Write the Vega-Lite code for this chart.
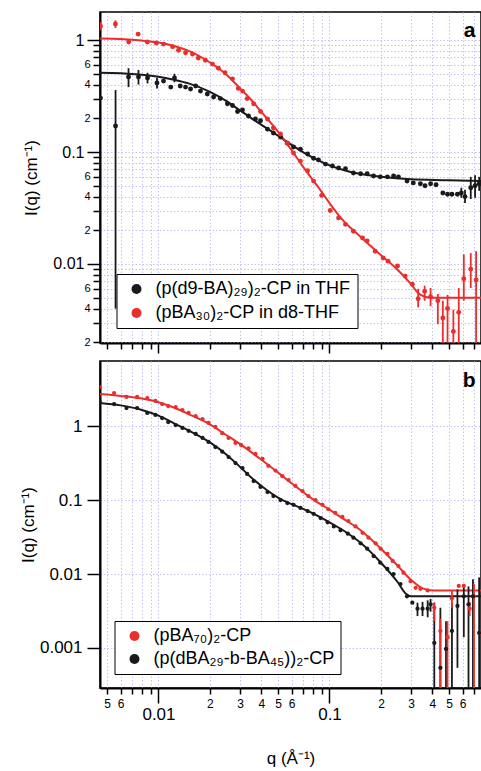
{
  "$schema": "https://vega.github.io/schema/vega-lite/v6.json",
  "padding": {"left": 18, "top": 11, "right": 0, "bottom": 4},
  "background": "white",
  "config": {
    "font": "Liberation Sans",
    "view": {"stroke": "black", "strokeWidth": 1.5},
    "axis": {"domainColor": "black", "domainWidth": 2, "tickColor": "black", "tickWidth": 1.5, "labelColor": "black", "titleColor": "black", "labelFont": "Liberation Sans", "titleFont": "Liberation Sans", "titleFontWeight": "normal", "gridColor": "#c3c3ee", "gridDash": [1.5, 2], "gridWidth": 1, "labelOverlap": false, "labelFlush": false, "labelBound": false}
  },
  "spacing": 5,
  "resolve": {"scale": {"color": "independent", "x": "independent", "y": "independent"}, "legend": {"color": "independent"}},
  "datasets": {
    "a_pts": [
      {"q":0.00458,"I":0.303,"s":"(p(d9-BA)₂₉)₂-CP in THF"},
      {"q":0.00561,"I":0.171,"lo":0.004,"hi":0.358,"s":"(p(d9-BA)₂₉)₂-CP in THF"},
      {"q":0.00668,"I":0.467,"lo":0.38,"hi":0.56,"s":"(p(d9-BA)₂₉)₂-CP in THF"},
      {"q":0.00764,"I":0.467,"lo":0.40,"hi":0.54,"s":"(p(d9-BA)₂₉)₂-CP in THF"},
      {"q":0.00863,"I":0.458,"lo":0.41,"hi":0.51,"s":"(p(d9-BA)₂₉)₂-CP in THF"},
      {"q":0.0098,"I":0.413,"lo":0.37,"hi":0.46,"s":"(p(d9-BA)₂₉)₂-CP in THF"},
      {"q":0.0107,"I":0.43,"s":"(p(d9-BA)₂₉)₂-CP in THF"},
      {"q":0.0118,"I":0.38,"s":"(p(d9-BA)₂₉)₂-CP in THF"},
      {"q":0.0124,"I":0.458,"lo":0.42,"hi":0.50,"s":"(p(d9-BA)₂₉)₂-CP in THF"},
      {"q":0.0134,"I":0.389,"s":"(p(d9-BA)₂₉)₂-CP in THF"},
      {"q":0.0144,"I":0.38,"s":"(p(d9-BA)₂₉)₂-CP in THF"},
      {"q":0.0154,"I":0.365,"s":"(p(d9-BA)₂₉)₂-CP in THF"},
      {"q":0.0165,"I":0.389,"s":"(p(d9-BA)₂₉)₂-CP in THF"},
      {"q":0.0176,"I":0.35,"s":"(p(d9-BA)₂₉)₂-CP in THF"},
      {"q":0.0193,"I":0.33,"s":"(p(d9-BA)₂₉)₂-CP in THF"},
      {"q":0.021,"I":0.31,"s":"(p(d9-BA)₂₉)₂-CP in THF"},
      {"q":0.023,"I":0.30,"s":"(p(d9-BA)₂₉)₂-CP in THF"},
      {"q":0.0253,"I":0.27,"s":"(p(d9-BA)₂₉)₂-CP in THF"},
      {"q":0.0271,"I":0.26,"s":"(p(d9-BA)₂₉)₂-CP in THF"},
      {"q":0.029,"I":0.23,"s":"(p(d9-BA)₂₉)₂-CP in THF"},
      {"q":0.031,"I":0.237,"s":"(p(d9-BA)₂₉)₂-CP in THF"},
      {"q":0.0336,"I":0.21,"s":"(p(d9-BA)₂₉)₂-CP in THF"},
      {"q":0.0369,"I":0.197,"s":"(p(d9-BA)₂₉)₂-CP in THF"},
      {"q":0.0395,"I":0.19,"s":"(p(d9-BA)₂₉)₂-CP in THF"},
      {"q":0.0434,"I":0.16,"s":"(p(d9-BA)₂₉)₂-CP in THF"},
      {"q":0.047,"I":0.148,"s":"(p(d9-BA)₂₉)₂-CP in THF"},
      {"q":0.0517,"I":0.136,"s":"(p(d9-BA)₂₉)₂-CP in THF"},
      {"q":0.0567,"I":0.12,"s":"(p(d9-BA)₂₉)₂-CP in THF"},
      {"q":0.0616,"I":0.111,"s":"(p(d9-BA)₂₉)₂-CP in THF"},
      {"q":0.0676,"I":0.106,"s":"(p(d9-BA)₂₉)₂-CP in THF"},
      {"q":0.0745,"I":0.096,"s":"(p(d9-BA)₂₉)₂-CP in THF"},
      {"q":0.0807,"I":0.088,"s":"(p(d9-BA)₂₉)₂-CP in THF"},
      {"q":0.0862,"I":0.085,"s":"(p(d9-BA)₂₉)₂-CP in THF"},
      {"q":0.0947,"I":0.078,"s":"(p(d9-BA)₂₉)₂-CP in THF"},
      {"q":0.104,"I":0.075,"s":"(p(d9-BA)₂₉)₂-CP in THF"},
      {"q":0.113,"I":0.072,"s":"(p(d9-BA)₂₉)₂-CP in THF"},
      {"q":0.124,"I":0.071,"s":"(p(d9-BA)₂₉)₂-CP in THF"},
      {"q":0.138,"I":0.065,"s":"(p(d9-BA)₂₉)₂-CP in THF"},
      {"q":0.152,"I":0.064,"s":"(p(d9-BA)₂₉)₂-CP in THF"},
      {"q":0.166,"I":0.064,"s":"(p(d9-BA)₂₉)₂-CP in THF"},
      {"q":0.181,"I":0.061,"s":"(p(d9-BA)₂₉)₂-CP in THF"},
      {"q":0.198,"I":0.06,"s":"(p(d9-BA)₂₉)₂-CP in THF"},
      {"q":0.218,"I":0.06,"s":"(p(d9-BA)₂₉)₂-CP in THF"},
      {"q":0.237,"I":0.061,"s":"(p(d9-BA)₂₉)₂-CP in THF"},
      {"q":0.253,"I":0.06,"s":"(p(d9-BA)₂₉)₂-CP in THF"},
      {"q":0.284,"I":0.055,"s":"(p(d9-BA)₂₉)₂-CP in THF"},
      {"q":0.309,"I":0.053,"s":"(p(d9-BA)₂₉)₂-CP in THF"},
      {"q":0.34,"I":0.052,"s":"(p(d9-BA)₂₉)₂-CP in THF"},
      {"q":0.362,"I":0.05,"s":"(p(d9-BA)₂₉)₂-CP in THF"},
      {"q":0.39,"I":0.052,"s":"(p(d9-BA)₂₉)₂-CP in THF"},
      {"q":0.42,"I":0.051,"s":"(p(d9-BA)₂₉)₂-CP in THF"},
      {"q":0.46,"I":0.043,"s":"(p(d9-BA)₂₉)₂-CP in THF"},
      {"q":0.49,"I":0.042,"s":"(p(d9-BA)₂₉)₂-CP in THF"},
      {"q":0.52,"I":0.042,"s":"(p(d9-BA)₂₉)₂-CP in THF"},
      {"q":0.56,"I":0.042,"s":"(p(d9-BA)₂₉)₂-CP in THF"},
      {"q":0.59,"I":0.043,"lo":0.039,"hi":0.048,"s":"(p(d9-BA)₂₉)₂-CP in THF"},
      {"q":0.62,"I":0.04,"lo":0.035,"hi":0.046,"s":"(p(d9-BA)₂₉)₂-CP in THF"},
      {"q":0.67,"I":0.048,"lo":0.038,"hi":0.06,"s":"(p(d9-BA)₂₉)₂-CP in THF"},
      {"q":0.71,"I":0.05,"lo":0.039,"hi":0.062,"s":"(p(d9-BA)₂₉)₂-CP in THF"},
      {"q":0.75,"I":0.052,"lo":0.045,"hi":0.06,"s":"(p(d9-BA)₂₉)₂-CP in THF"},
      {"q":0.00458,"I":1.33,"lo":1.22,"hi":1.45,"s":"(pBA₃₀)₂-CP in d8-THF"},
      {"q":0.0056,"I":1.39,"lo":1.28,"hi":1.5,"s":"(pBA₃₀)₂-CP in d8-THF"},
      {"q":0.0067,"I":0.96,"s":"(pBA₃₀)₂-CP in d8-THF"},
      {"q":0.0076,"I":1.13,"s":"(pBA₃₀)₂-CP in d8-THF"},
      {"q":0.0086,"I":0.96,"s":"(pBA₃₀)₂-CP in d8-THF"},
      {"q":0.0097,"I":0.94,"s":"(pBA₃₀)₂-CP in d8-THF"},
      {"q":0.0107,"I":0.92,"s":"(pBA₃₀)₂-CP in d8-THF"},
      {"q":0.0121,"I":0.87,"s":"(pBA₃₀)₂-CP in d8-THF"},
      {"q":0.0131,"I":0.81,"s":"(pBA₃₀)₂-CP in d8-THF"},
      {"q":0.0144,"I":0.77,"s":"(pBA₃₀)₂-CP in d8-THF"},
      {"q":0.0158,"I":0.75,"s":"(pBA₃₀)₂-CP in d8-THF"},
      {"q":0.0171,"I":0.69,"s":"(pBA₃₀)₂-CP in d8-THF"},
      {"q":0.0188,"I":0.66,"s":"(pBA₃₀)₂-CP in d8-THF"},
      {"q":0.0207,"I":0.61,"s":"(pBA₃₀)₂-CP in d8-THF"},
      {"q":0.0224,"I":0.56,"s":"(pBA₃₀)₂-CP in d8-THF"},
      {"q":0.0245,"I":0.51,"s":"(pBA₃₀)₂-CP in d8-THF"},
      {"q":0.0271,"I":0.45,"s":"(pBA₃₀)₂-CP in d8-THF"},
      {"q":0.0293,"I":0.37,"s":"(pBA₃₀)₂-CP in d8-THF"},
      {"q":0.031,"I":0.35,"s":"(pBA₃₀)₂-CP in d8-THF"},
      {"q":0.033,"I":0.30,"s":"(pBA₃₀)₂-CP in d8-THF"},
      {"q":0.036,"I":0.27,"s":"(pBA₃₀)₂-CP in d8-THF"},
      {"q":0.0395,"I":0.23,"s":"(pBA₃₀)₂-CP in d8-THF"},
      {"q":0.0434,"I":0.197,"s":"(pBA₃₀)₂-CP in d8-THF"},
      {"q":0.047,"I":0.164,"s":"(pBA₃₀)₂-CP in d8-THF"},
      {"q":0.0517,"I":0.145,"s":"(pBA₃₀)₂-CP in d8-THF"},
      {"q":0.0567,"I":0.12,"s":"(pBA₃₀)₂-CP in d8-THF"},
      {"q":0.0616,"I":0.098,"s":"(pBA₃₀)₂-CP in d8-THF"},
      {"q":0.0676,"I":0.083,"s":"(pBA₃₀)₂-CP in d8-THF"},
      {"q":0.0745,"I":0.068,"s":"(pBA₃₀)₂-CP in d8-THF"},
      {"q":0.0807,"I":0.055,"s":"(pBA₃₀)₂-CP in d8-THF"},
      {"q":0.09,"I":0.041,"s":"(pBA₃₀)₂-CP in d8-THF"},
      {"q":0.101,"I":0.030,"s":"(pBA₃₀)₂-CP in d8-THF"},
      {"q":0.113,"I":0.0258,"s":"(pBA₃₀)₂-CP in d8-THF"},
      {"q":0.124,"I":0.0226,"s":"(pBA₃₀)₂-CP in d8-THF"},
      {"q":0.138,"I":0.0196,"s":"(pBA₃₀)₂-CP in d8-THF"},
      {"q":0.156,"I":0.0171,"s":"(pBA₃₀)₂-CP in d8-THF"},
      {"q":0.166,"I":0.0161,"s":"(pBA₃₀)₂-CP in d8-THF"},
      {"q":0.185,"I":0.013,"s":"(pBA₃₀)₂-CP in d8-THF"},
      {"q":0.206,"I":0.0113,"s":"(pBA₃₀)₂-CP in d8-THF"},
      {"q":0.22,"I":0.0106,"s":"(pBA₃₀)₂-CP in d8-THF"},
      {"q":0.25,"I":0.0096,"s":"(pBA₃₀)₂-CP in d8-THF"},
      {"q":0.277,"I":0.0078,"s":"(pBA₃₀)₂-CP in d8-THF"},
      {"q":0.305,"I":0.0066,"s":"(pBA₃₀)₂-CP in d8-THF"},
      {"q":0.33,"I":0.0049,"lo":0.0041,"hi":0.006,"s":"(pBA₃₀)₂-CP in d8-THF"},
      {"q":0.36,"I":0.0057,"lo":0.0047,"hi":0.0064,"s":"(pBA₃₀)₂-CP in d8-THF"},
      {"q":0.39,"I":0.0051,"lo":0.0042,"hi":0.0061,"s":"(pBA₃₀)₂-CP in d8-THF"},
      {"q":0.43,"I":0.0047,"lo":0.0029,"hi":0.0054,"s":"(pBA₃₀)₂-CP in d8-THF"},
      {"q":0.46,"I":0.0033,"lo":0.0015,"hi":0.0047,"s":"(pBA₃₀)₂-CP in d8-THF"},
      {"q":0.49,"I":0.004,"lo":0.0015,"hi":0.0053,"s":"(pBA₃₀)₂-CP in d8-THF"},
      {"q":0.53,"I":0.0025,"lo":0.0015,"hi":0.0039,"s":"(pBA₃₀)₂-CP in d8-THF"},
      {"q":0.57,"I":0.0037,"lo":0.0015,"hi":0.0061,"s":"(pBA₃₀)₂-CP in d8-THF"},
      {"q":0.61,"I":0.0074,"lo":0.0047,"hi":0.0122,"s":"(pBA₃₀)₂-CP in d8-THF"},
      {"q":0.67,"I":0.009,"lo":0.0061,"hi":0.0125,"s":"(pBA₃₀)₂-CP in d8-THF"},
      {"q":0.72,"I":0.0072,"lo":0.0015,"hi":0.013,"s":"(pBA₃₀)₂-CP in d8-THF"}
    ],
    "a_fit": [
      {"q":0.00455,"I":0.51,"s":"(p(d9-BA)₂₉)₂-CP in THF"},
      {"q":0.006,"I":0.505,"s":"(p(d9-BA)₂₉)₂-CP in THF"},
      {"q":0.008,"I":0.49,"s":"(p(d9-BA)₂₉)₂-CP in THF"},
      {"q":0.01,"I":0.47,"s":"(p(d9-BA)₂₉)₂-CP in THF"},
      {"q":0.0125,"I":0.44,"s":"(p(d9-BA)₂₉)₂-CP in THF"},
      {"q":0.015,"I":0.41,"s":"(p(d9-BA)₂₉)₂-CP in THF"},
      {"q":0.02,"I":0.345,"s":"(p(d9-BA)₂₉)₂-CP in THF"},
      {"q":0.025,"I":0.285,"s":"(p(d9-BA)₂₉)₂-CP in THF"},
      {"q":0.03,"I":0.235,"s":"(p(d9-BA)₂₉)₂-CP in THF"},
      {"q":0.035,"I":0.2,"s":"(p(d9-BA)₂₉)₂-CP in THF"},
      {"q":0.04,"I":0.175,"s":"(p(d9-BA)₂₉)₂-CP in THF"},
      {"q":0.05,"I":0.14,"s":"(p(d9-BA)₂₉)₂-CP in THF"},
      {"q":0.06,"I":0.116,"s":"(p(d9-BA)₂₉)₂-CP in THF"},
      {"q":0.07,"I":0.1,"s":"(p(d9-BA)₂₉)₂-CP in THF"},
      {"q":0.08,"I":0.089,"s":"(p(d9-BA)₂₉)₂-CP in THF"},
      {"q":0.1,"I":0.076,"s":"(p(d9-BA)₂₉)₂-CP in THF"},
      {"q":0.125,"I":0.068,"s":"(p(d9-BA)₂₉)₂-CP in THF"},
      {"q":0.15,"I":0.064,"s":"(p(d9-BA)₂₉)₂-CP in THF"},
      {"q":0.2,"I":0.06,"s":"(p(d9-BA)₂₉)₂-CP in THF"},
      {"q":0.3,"I":0.057,"s":"(p(d9-BA)₂₉)₂-CP in THF"},
      {"q":0.5,"I":0.056,"s":"(p(d9-BA)₂₉)₂-CP in THF"},
      {"q":0.769,"I":0.055,"s":"(p(d9-BA)₂₉)₂-CP in THF"},
      {"q":0.00455,"I":1.03,"s":"(pBA₃₀)₂-CP in d8-THF"},
      {"q":0.006,"I":1.02,"s":"(pBA₃₀)₂-CP in d8-THF"},
      {"q":0.008,"I":0.99,"s":"(pBA₃₀)₂-CP in d8-THF"},
      {"q":0.01,"I":0.95,"s":"(pBA₃₀)₂-CP in d8-THF"},
      {"q":0.0125,"I":0.88,"s":"(pBA₃₀)₂-CP in d8-THF"},
      {"q":0.015,"I":0.8,"s":"(pBA₃₀)₂-CP in d8-THF"},
      {"q":0.02,"I":0.63,"s":"(pBA₃₀)₂-CP in d8-THF"},
      {"q":0.025,"I":0.49,"s":"(pBA₃₀)₂-CP in d8-THF"},
      {"q":0.03,"I":0.37,"s":"(pBA₃₀)₂-CP in d8-THF"},
      {"q":0.035,"I":0.29,"s":"(pBA₃₀)₂-CP in d8-THF"},
      {"q":0.04,"I":0.228,"s":"(pBA₃₀)₂-CP in d8-THF"},
      {"q":0.045,"I":0.185,"s":"(pBA₃₀)₂-CP in d8-THF"},
      {"q":0.05,"I":0.152,"s":"(pBA₃₀)₂-CP in d8-THF"},
      {"q":0.06,"I":0.104,"s":"(pBA₃₀)₂-CP in d8-THF"},
      {"q":0.07,"I":0.074,"s":"(pBA₃₀)₂-CP in d8-THF"},
      {"q":0.08,"I":0.056,"s":"(pBA₃₀)₂-CP in d8-THF"},
      {"q":0.09,"I":0.044,"s":"(pBA₃₀)₂-CP in d8-THF"},
      {"q":0.1,"I":0.035,"s":"(pBA₃₀)₂-CP in d8-THF"},
      {"q":0.12,"I":0.0245,"s":"(pBA₃₀)₂-CP in d8-THF"},
      {"q":0.15,"I":0.0178,"s":"(pBA₃₀)₂-CP in d8-THF"},
      {"q":0.2,"I":0.012,"s":"(pBA₃₀)₂-CP in d8-THF"},
      {"q":0.25,"I":0.0089,"s":"(pBA₃₀)₂-CP in d8-THF"},
      {"q":0.3,"I":0.0066,"s":"(pBA₃₀)₂-CP in d8-THF"},
      {"q":0.33,"I":0.0055,"s":"(pBA₃₀)₂-CP in d8-THF"},
      {"q":0.36,"I":0.0051,"s":"(pBA₃₀)₂-CP in d8-THF"},
      {"q":0.4,"I":0.005,"s":"(pBA₃₀)₂-CP in d8-THF"},
      {"q":0.769,"I":0.005,"s":"(pBA₃₀)₂-CP in d8-THF"}
    ],
    "b_pts": [
      {"q":0.00453,"I":3.37,"s":"(pBA₇₀)₂-CP"},
      {"q":0.0055,"I":2.79,"s":"(pBA₇₀)₂-CP"},
      {"q":0.0065,"I":2.47,"s":"(pBA₇₀)₂-CP"},
      {"q":0.0075,"I":2.47,"s":"(pBA₇₀)₂-CP"},
      {"q":0.0086,"I":2.39,"s":"(pBA₇₀)₂-CP"},
      {"q":0.0096,"I":2.18,"s":"(pBA₇₀)₂-CP"},
      {"q":0.0105,"I":1.98,"s":"(pBA₇₀)₂-CP"},
      {"q":0.0114,"I":1.86,"s":"(pBA₇₀)₂-CP"},
      {"q":0.0126,"I":1.8,"s":"(pBA₇₀)₂-CP"},
      {"q":0.0138,"I":1.64,"s":"(pBA₇₀)₂-CP"},
      {"q":0.015,"I":1.5,"s":"(pBA₇₀)₂-CP"},
      {"q":0.0165,"I":1.36,"s":"(pBA₇₀)₂-CP"},
      {"q":0.0181,"I":1.24,"s":"(pBA₇₀)₂-CP"},
      {"q":0.0196,"I":1.1,"s":"(pBA₇₀)₂-CP"},
      {"q":0.0215,"I":0.97,"s":"(pBA₇₀)₂-CP"},
      {"q":0.0236,"I":0.8,"s":"(pBA₇₀)₂-CP"},
      {"q":0.0257,"I":0.69,"s":"(pBA₇₀)₂-CP"},
      {"q":0.0282,"I":0.59,"s":"(pBA₇₀)₂-CP"},
      {"q":0.0305,"I":0.55,"s":"(pBA₇₀)₂-CP"},
      {"q":0.0336,"I":0.5,"s":"(pBA₇₀)₂-CP"},
      {"q":0.0369,"I":0.42,"s":"(pBA₇₀)₂-CP"},
      {"q":0.0406,"I":0.36,"s":"(pBA₇₀)₂-CP"},
      {"q":0.0439,"I":0.29,"s":"(pBA₇₀)₂-CP"},
      {"q":0.0483,"I":0.25,"s":"(pBA₇₀)₂-CP"},
      {"q":0.053,"I":0.21,"s":"(pBA₇₀)₂-CP"},
      {"q":0.0576,"I":0.186,"s":"(pBA₇₀)₂-CP"},
      {"q":0.0632,"I":0.155,"s":"(pBA₇₀)₂-CP"},
      {"q":0.0695,"I":0.132,"s":"(pBA₇₀)₂-CP"},
      {"q":0.0753,"I":0.113,"s":"(pBA₇₀)₂-CP"},
      {"q":0.0828,"I":0.1,"s":"(pBA₇₀)₂-CP"},
      {"q":0.091,"I":0.086,"s":"(pBA₇₀)₂-CP"},
      {"q":0.0985,"I":0.075,"s":"(pBA₇₀)₂-CP"},
      {"q":0.108,"I":0.067,"s":"(pBA₇₀)₂-CP"},
      {"q":0.119,"I":0.059,"s":"(pBA₇₀)₂-CP"},
      {"q":0.129,"I":0.052,"s":"(pBA₇₀)₂-CP"},
      {"q":0.142,"I":0.044,"s":"(pBA₇₀)₂-CP"},
      {"q":0.156,"I":0.036,"s":"(pBA₇₀)₂-CP"},
      {"q":0.169,"I":0.031,"s":"(pBA₇₀)₂-CP"},
      {"q":0.186,"I":0.026,"s":"(pBA₇₀)₂-CP"},
      {"q":0.199,"I":0.022,"s":"(pBA₇₀)₂-CP"},
      {"q":0.218,"I":0.0187,"s":"(pBA₇₀)₂-CP"},
      {"q":0.234,"I":0.015,"s":"(pBA₇₀)₂-CP"},
      {"q":0.253,"I":0.0128,"s":"(pBA₇₀)₂-CP"},
      {"q":0.271,"I":0.0104,"s":"(pBA₇₀)₂-CP"},
      {"q":0.298,"I":0.008,"s":"(pBA₇₀)₂-CP"},
      {"q":0.319,"I":0.0065,"s":"(pBA₇₀)₂-CP"},
      {"q":0.34,"I":0.0063,"s":"(pBA₇₀)₂-CP"},
      {"q":0.375,"I":0.006,"s":"(pBA₇₀)₂-CP"},
      {"q":0.41,"I":0.0035,"lo":0.0023,"hi":0.0041,"s":"(pBA₇₀)₂-CP"},
      {"q":0.445,"I":0.0017,"lo":0.0002,"hi":0.0025,"s":"(pBA₇₀)₂-CP"},
      {"q":0.49,"I":0.0014,"lo":0.0002,"hi":0.0023,"s":"(pBA₇₀)₂-CP"},
      {"q":0.52,"I":0.0047,"lo":0.0035,"hi":0.0059,"s":"(pBA₇₀)₂-CP"},
      {"q":0.57,"I":0.0069,"s":"(pBA₇₀)₂-CP"},
      {"q":0.61,"I":0.0069,"s":"(pBA₇₀)₂-CP"},
      {"q":0.66,"I":0.0034,"lo":0.0027,"hi":0.0042,"s":"(pBA₇₀)₂-CP"},
      {"q":0.7,"I":0.005,"lo":0.0002,"hi":0.0073,"s":"(pBA₇₀)₂-CP"},
      {"q":0.76,"I":0.0016,"s":"(pBA₇₀)₂-CP"},
      {"q":0.00453,"I":2.11,"s":"(p(dBA₂₉-b-BA₄₅))₂-CP"},
      {"q":0.0055,"I":1.98,"s":"(p(dBA₂₉-b-BA₄₅))₂-CP"},
      {"q":0.0065,"I":1.75,"s":"(p(dBA₂₉-b-BA₄₅))₂-CP"},
      {"q":0.0075,"I":1.75,"s":"(p(dBA₂₉-b-BA₄₅))₂-CP"},
      {"q":0.0086,"I":1.5,"s":"(p(dBA₂₉-b-BA₄₅))₂-CP"},
      {"q":0.0096,"I":1.41,"s":"(p(dBA₂₉-b-BA₄₅))₂-CP"},
      {"q":0.0105,"I":1.28,"s":"(p(dBA₂₉-b-BA₄₅))₂-CP"},
      {"q":0.0114,"I":1.13,"s":"(p(dBA₂₉-b-BA₄₅))₂-CP"},
      {"q":0.0126,"I":1.03,"s":"(p(dBA₂₉-b-BA₄₅))₂-CP"},
      {"q":0.0138,"I":0.94,"s":"(p(dBA₂₉-b-BA₄₅))₂-CP"},
      {"q":0.015,"I":0.86,"s":"(p(dBA₂₉-b-BA₄₅))₂-CP"},
      {"q":0.0165,"I":0.78,"s":"(p(dBA₂₉-b-BA₄₅))₂-CP"},
      {"q":0.0181,"I":0.69,"s":"(p(dBA₂₉-b-BA₄₅))₂-CP"},
      {"q":0.0196,"I":0.61,"s":"(p(dBA₂₉-b-BA₄₅))₂-CP"},
      {"q":0.0215,"I":0.52,"s":"(p(dBA₂₉-b-BA₄₅))₂-CP"},
      {"q":0.0236,"I":0.45,"s":"(p(dBA₂₉-b-BA₄₅))₂-CP"},
      {"q":0.0257,"I":0.38,"s":"(p(dBA₂₉-b-BA₄₅))₂-CP"},
      {"q":0.0282,"I":0.316,"s":"(p(dBA₂₉-b-BA₄₅))₂-CP"},
      {"q":0.031,"I":0.27,"s":"(p(dBA₂₉-b-BA₄₅))₂-CP"},
      {"q":0.033,"I":0.225,"s":"(p(dBA₂₉-b-BA₄₅))₂-CP"},
      {"q":0.036,"I":0.18,"s":"(p(dBA₂₉-b-BA₄₅))₂-CP"},
      {"q":0.0395,"I":0.15,"s":"(p(dBA₂₉-b-BA₄₅))₂-CP"},
      {"q":0.0434,"I":0.128,"s":"(p(dBA₂₉-b-BA₄₅))₂-CP"},
      {"q":0.047,"I":0.113,"s":"(p(dBA₂₉-b-BA₄₅))₂-CP"},
      {"q":0.0517,"I":0.1,"s":"(p(dBA₂₉-b-BA₄₅))₂-CP"},
      {"q":0.0567,"I":0.091,"s":"(p(dBA₂₉-b-BA₄₅))₂-CP"},
      {"q":0.0616,"I":0.086,"s":"(p(dBA₂₉-b-BA₄₅))₂-CP"},
      {"q":0.0676,"I":0.078,"s":"(p(dBA₂₉-b-BA₄₅))₂-CP"},
      {"q":0.0745,"I":0.071,"s":"(p(dBA₂₉-b-BA₄₅))₂-CP"},
      {"q":0.0807,"I":0.065,"s":"(p(dBA₂₉-b-BA₄₅))₂-CP"},
      {"q":0.0887,"I":0.057,"s":"(p(dBA₂₉-b-BA₄₅))₂-CP"},
      {"q":0.0975,"I":0.05,"s":"(p(dBA₂₉-b-BA₄₅))₂-CP"},
      {"q":0.106,"I":0.044,"s":"(p(dBA₂₉-b-BA₄₅))₂-CP"},
      {"q":0.116,"I":0.039,"s":"(p(dBA₂₉-b-BA₄₅))₂-CP"},
      {"q":0.128,"I":0.035,"s":"(p(dBA₂₉-b-BA₄₅))₂-CP"},
      {"q":0.138,"I":0.031,"s":"(p(dBA₂₉-b-BA₄₅))₂-CP"},
      {"q":0.152,"I":0.026,"s":"(p(dBA₂₉-b-BA₄₅))₂-CP"},
      {"q":0.166,"I":0.022,"s":"(p(dBA₂₉-b-BA₄₅))₂-CP"},
      {"q":0.181,"I":0.0175,"s":"(p(dBA₂₉-b-BA₄₅))₂-CP"},
      {"q":0.198,"I":0.0142,"s":"(p(dBA₂₉-b-BA₄₅))₂-CP"},
      {"q":0.218,"I":0.0117,"s":"(p(dBA₂₉-b-BA₄₅))₂-CP"},
      {"q":0.237,"I":0.01,"s":"(p(dBA₂₉-b-BA₄₅))₂-CP"},
      {"q":0.26,"I":0.0073,"s":"(p(dBA₂₉-b-BA₄₅))₂-CP"},
      {"q":0.284,"I":0.005,"s":"(p(dBA₂₉-b-BA₄₅))₂-CP"},
      {"q":0.305,"I":0.0041,"s":"(p(dBA₂₉-b-BA₄₅))₂-CP"},
      {"q":0.327,"I":0.0034,"lo":0.0027,"hi":0.0041,"s":"(p(dBA₂₉-b-BA₄₅))₂-CP"},
      {"q":0.35,"I":0.0034,"lo":0.0027,"hi":0.0042,"s":"(p(dBA₂₉-b-BA₄₅))₂-CP"},
      {"q":0.375,"I":0.0034,"lo":0.0026,"hi":0.0044,"s":"(p(dBA₂₉-b-BA₄₅))₂-CP"},
      {"q":0.39,"I":0.0039,"lo":0.0031,"hi":0.0046,"s":"(p(dBA₂₉-b-BA₄₅))₂-CP"},
      {"q":0.41,"I":0.00117,"lo":0.0002,"hi":0.0041,"s":"(p(dBA₂₉-b-BA₄₅))₂-CP"},
      {"q":0.445,"I":0.00054,"lo":0.0002,"hi":0.0035,"s":"(p(dBA₂₉-b-BA₄₅))₂-CP"},
      {"q":0.48,"I":0.00097,"lo":0.0002,"hi":0.0023,"s":"(p(dBA₂₉-b-BA₄₅))₂-CP"},
      {"q":0.52,"I":0.0017,"lo":0.0002,"hi":0.0041,"s":"(p(dBA₂₉-b-BA₄₅))₂-CP"},
      {"q":0.56,"I":0.0037,"lo":0.00054,"hi":0.0062,"s":"(p(dBA₂₉-b-BA₄₅))₂-CP"},
      {"q":0.61,"I":0.005,"lo":0.0014,"hi":0.0073,"s":"(p(dBA₂₉-b-BA₄₅))₂-CP"},
      {"q":0.65,"I":0.0039,"lo":0.0002,"hi":0.0068,"s":"(p(dBA₂₉-b-BA₄₅))₂-CP"},
      {"q":0.69,"I":0.005,"lo":0.0002,"hi":0.0085,"s":"(p(dBA₂₉-b-BA₄₅))₂-CP"},
      {"q":0.75,"I":0.0016,"lo":0.0002,"hi":0.009,"s":"(p(dBA₂₉-b-BA₄₅))₂-CP"}
    ],
    "b_fit": [
      {"q":0.00453,"I":2.7,"s":"(pBA₇₀)₂-CP"},
      {"q":0.006,"I":2.55,"s":"(pBA₇₀)₂-CP"},
      {"q":0.008,"I":2.35,"s":"(pBA₇₀)₂-CP"},
      {"q":0.01,"I":2.1,"s":"(pBA₇₀)₂-CP"},
      {"q":0.0125,"I":1.75,"s":"(pBA₇₀)₂-CP"},
      {"q":0.015,"I":1.45,"s":"(pBA₇₀)₂-CP"},
      {"q":0.02,"I":1.05,"s":"(pBA₇₀)₂-CP"},
      {"q":0.025,"I":0.75,"s":"(pBA₇₀)₂-CP"},
      {"q":0.03,"I":0.57,"s":"(pBA₇₀)₂-CP"},
      {"q":0.04,"I":0.35,"s":"(pBA₇₀)₂-CP"},
      {"q":0.05,"I":0.235,"s":"(pBA₇₀)₂-CP"},
      {"q":0.06,"I":0.168,"s":"(pBA₇₀)₂-CP"},
      {"q":0.07,"I":0.128,"s":"(pBA₇₀)₂-CP"},
      {"q":0.08,"I":0.102,"s":"(pBA₇₀)₂-CP"},
      {"q":0.1,"I":0.074,"s":"(pBA₇₀)₂-CP"},
      {"q":0.12,"I":0.056,"s":"(pBA₇₀)₂-CP"},
      {"q":0.15,"I":0.04,"s":"(pBA₇₀)₂-CP"},
      {"q":0.2,"I":0.022,"s":"(pBA₇₀)₂-CP"},
      {"q":0.25,"I":0.013,"s":"(pBA₇₀)₂-CP"},
      {"q":0.3,"I":0.0083,"s":"(pBA₇₀)₂-CP"},
      {"q":0.35,"I":0.0064,"s":"(pBA₇₀)₂-CP"},
      {"q":0.4,"I":0.006,"s":"(pBA₇₀)₂-CP"},
      {"q":0.769,"I":0.006,"s":"(pBA₇₀)₂-CP"},
      {"q":0.00453,"I":2.05,"s":"(p(dBA₂₉-b-BA₄₅))₂-CP"},
      {"q":0.006,"I":1.9,"s":"(p(dBA₂₉-b-BA₄₅))₂-CP"},
      {"q":0.008,"I":1.65,"s":"(p(dBA₂₉-b-BA₄₅))₂-CP"},
      {"q":0.01,"I":1.38,"s":"(p(dBA₂₉-b-BA₄₅))₂-CP"},
      {"q":0.0125,"I":1.07,"s":"(p(dBA₂₉-b-BA₄₅))₂-CP"},
      {"q":0.015,"I":0.87,"s":"(p(dBA₂₉-b-BA₄₅))₂-CP"},
      {"q":0.02,"I":0.6,"s":"(p(dBA₂₉-b-BA₄₅))₂-CP"},
      {"q":0.025,"I":0.41,"s":"(p(dBA₂₉-b-BA₄₅))₂-CP"},
      {"q":0.03,"I":0.28,"s":"(p(dBA₂₉-b-BA₄₅))₂-CP"},
      {"q":0.035,"I":0.2,"s":"(p(dBA₂₉-b-BA₄₅))₂-CP"},
      {"q":0.04,"I":0.155,"s":"(p(dBA₂₉-b-BA₄₅))₂-CP"},
      {"q":0.05,"I":0.108,"s":"(p(dBA₂₉-b-BA₄₅))₂-CP"},
      {"q":0.06,"I":0.088,"s":"(p(dBA₂₉-b-BA₄₅))₂-CP"},
      {"q":0.07,"I":0.076,"s":"(p(dBA₂₉-b-BA₄₅))₂-CP"},
      {"q":0.08,"I":0.066,"s":"(p(dBA₂₉-b-BA₄₅))₂-CP"},
      {"q":0.1,"I":0.05,"s":"(p(dBA₂₉-b-BA₄₅))₂-CP"},
      {"q":0.12,"I":0.039,"s":"(p(dBA₂₉-b-BA₄₅))₂-CP"},
      {"q":0.15,"I":0.027,"s":"(p(dBA₂₉-b-BA₄₅))₂-CP"},
      {"q":0.2,"I":0.0142,"s":"(p(dBA₂₉-b-BA₄₅))₂-CP"},
      {"q":0.25,"I":0.0078,"s":"(p(dBA₂₉-b-BA₄₅))₂-CP"},
      {"q":0.28,"I":0.0054,"s":"(p(dBA₂₉-b-BA₄₅))₂-CP"},
      {"q":0.3,"I":0.005,"s":"(p(dBA₂₉-b-BA₄₅))₂-CP"},
      {"q":0.769,"I":0.005,"s":"(p(dBA₂₉-b-BA₄₅))₂-CP"}
    ]
  },
  "vconcat": [
    {
      "width": 381,
      "height": 331,
      "layer": [
        {
          "data": {"name": "a_fit"},
          "transform": [{"filter": "datum.s === '(p(d9-BA)₂₉)₂-CP in THF'"}],
          "mark": {"type": "line", "strokeWidth": 2, "clip": true, "color": "#1a1a1a", "interpolate": "monotone"},
          "encoding": {
            "x": {"field": "q", "type": "quantitative",
              "scale": {"type": "log", "domain": [0.00455, 0.769], "nice": false},
              "axis": {"title": null, "labels": false, "grid": true,
                "values": [0.005,0.006,0.007,0.008,0.009,0.01,0.02,0.03,0.04,0.05,0.06,0.07,0.08,0.09,0.1,0.2,0.3,0.4,0.5,0.6,0.7],
                "tickSize": {"condition": {"test": "datum.value === 0.01 || datum.value === 0.1", "value": 10}, "value": 6}}},
            "y": {"field": "I", "type": "quantitative",
              "scale": {"type": "log", "domain": [0.00197, 1.78], "nice": false},
              "axis": {"title": "I(q) (cm⁻¹)", "titleFontSize": 17, "titlePadding": 12, "grid": true,
                "values": [0.002,0.003,0.004,0.005,0.006,0.007,0.008,0.009,0.01,0.02,0.03,0.04,0.05,0.06,0.07,0.08,0.09,0.1,0.2,0.3,0.4,0.5,0.6,0.7,0.8,0.9,1],
                "labelExpr": "indexof([1,0.1,0.01], datum.value) >= 0 ? format(datum.value, '~g') : indexof([0.002,0.02,0.2], datum.value) >= 0 ? '2' : indexof([0.004,0.04,0.4], datum.value) >= 0 ? '4' : indexof([0.006,0.06,0.6], datum.value) >= 0 ? '6' : ''",
                "labelFontSize": {"condition": {"test": "datum.value === 1 || datum.value === 0.1 || datum.value === 0.01", "value": 16}, "value": 11},
                "tickSize": {"condition": {"test": "datum.value === 1 || datum.value === 0.1 || datum.value === 0.01", "value": 13}, "value": 7},
                "labelPadding": 3}}
          }
        },
        {
          "data": {"name": "a_fit"},
          "transform": [{"filter": "datum.s === '(pBA₃₀)₂-CP in d8-THF'"}],
          "mark": {"type": "line", "strokeWidth": 2, "clip": true, "color": "#ea2e2c", "interpolate": "monotone"},
          "encoding": {
            "x": {"field": "q", "type": "quantitative"},
            "y": {"field": "I", "type": "quantitative"}
          }
        },
        {
          "data": {"name": "a_pts"},
          "transform": [{"filter": "datum.s === '(p(d9-BA)₂₉)₂-CP in THF'"}],
          "mark": {"type": "rule", "strokeWidth": 1.8, "clip": true, "color": "#1a1a1a"},
          "encoding": {
            "x": {"field": "q", "type": "quantitative"},
            "y": {"field": "lo", "type": "quantitative"},
            "y2": {"field": "hi"}
          }
        },
        {
          "data": {"name": "a_pts"},
          "transform": [{"filter": "datum.s === '(pBA₃₀)₂-CP in d8-THF'"}],
          "mark": {"type": "rule", "strokeWidth": 1.8, "clip": true, "color": "#ea2e2c"},
          "encoding": {
            "x": {"field": "q", "type": "quantitative"},
            "y": {"field": "lo", "type": "quantitative"},
            "y2": {"field": "hi"}
          }
        },
        {
          "data": {"name": "a_pts"},
          "mark": {"type": "circle", "size": 24, "opacity": 1, "clip": true},
          "encoding": {
            "x": {"field": "q", "type": "quantitative"},
            "y": {"field": "I", "type": "quantitative"},
            "color": {"field": "s", "type": "nominal",
              "scale": {"domain": ["(p(d9-BA)₂₉)₂-CP in THF", "(pBA₃₀)₂-CP in d8-THF"], "range": ["#1a1a1a", "#ea2e2c"]},
              "legend": {"title": null, "orient": "none", "legendX": 16.5, "legendY": 262, "strokeColor": "black", "fillColor": "white", "padding": 6, "labelFontSize": 18, "labelFont": "Liberation Sans", "labelColor": "black", "symbolType": "circle", "symbolSize": 100, "symbolOpacity": 1, "rowPadding": 6, "symbolOffset": 5, "labelOffset": 10, "labelLimit": 400}}
          }
        },
        {
          "data": {"values": [{"t": "a"}]},
          "mark": {"type": "text", "fontWeight": "bold", "fontSize": 21, "align": "right", "baseline": "alphabetic", "color": "black"},
          "encoding": {
            "x": {"datum": 0.714, "type": "quantitative"},
            "y": {"datum": 1.06, "type": "quantitative"},
            "text": {"field": "t"}
          }
        }
      ]
    },
    {
      "width": 381,
      "height": 327,
      "layer": [
        {
          "data": {"name": "b_fit"},
          "transform": [{"filter": "datum.s === '(pBA₇₀)₂-CP'"}],
          "mark": {"type": "line", "strokeWidth": 2, "clip": true, "color": "#ea2e2c", "interpolate": "monotone"},
          "encoding": {
            "x": {"field": "q", "type": "quantitative",
              "scale": {"type": "log", "domain": [0.00455, 0.769], "nice": false},
              "axis": {"title": "q (Å⁻¹)", "titleFontSize": 17, "titlePadding": 28, "grid": true,
                "values": [0.005,0.006,0.007,0.008,0.009,0.01,0.02,0.03,0.04,0.05,0.06,0.07,0.08,0.09,0.1,0.2,0.3,0.4,0.5,0.6,0.7],
                "labelExpr": "indexof([0.01,0.1], datum.value) >= 0 ? format(datum.value, '~g') : indexof([0.005,0.006,0.02,0.03,0.04,0.05,0.06,0.2,0.3,0.4,0.5,0.6], datum.value) >= 0 ? format(datum.value / pow(10, floor(log(datum.value) / LN10 + 1e-9)), '.0f') : ''",
                "labelFontSize": {"condition": {"test": "datum.value === 0.01 || datum.value === 0.1", "value": 17}, "value": 12},
                "tickSize": {"condition": {"test": "datum.value === 0.01 || datum.value === 0.1", "value": 15}, "value": 6},
                "labelPadding": {"condition": {"test": "datum.value === 0.01 || datum.value === 0.1", "value": 3}, "value": 4}}},
            "y": {"field": "I", "type": "quantitative",
              "scale": {"type": "log", "domain": [0.000288, 7.56], "nice": false},
              "axis": {"title": "I(q) (cm⁻¹)", "titleFontSize": 17, "titlePadding": 2, "grid": true,
                "values": [0.001, 0.01, 0.1, 1],
                "labelExpr": "format(datum.value, '~g')",
                "labelFontSize": 17, "tickSize": 13, "labelPadding": 5}}
          }
        },
        {
          "data": {"name": "b_fit"},
          "transform": [{"filter": "datum.s === '(p(dBA₂₉-b-BA₄₅))₂-CP'"}],
          "mark": {"type": "line", "strokeWidth": 2, "clip": true, "color": "#1a1a1a", "interpolate": "monotone"},
          "encoding": {
            "x": {"field": "q", "type": "quantitative"},
            "y": {"field": "I", "type": "quantitative"}
          }
        },
        {
          "data": {"name": "b_pts"},
          "transform": [{"filter": "datum.s === '(p(dBA₂₉-b-BA₄₅))₂-CP'"}],
          "mark": {"type": "rule", "strokeWidth": 1.8, "clip": true, "color": "#1a1a1a"},
          "encoding": {
            "x": {"field": "q", "type": "quantitative"},
            "y": {"field": "lo", "type": "quantitative"},
            "y2": {"field": "hi"}
          }
        },
        {
          "data": {"name": "b_pts"},
          "transform": [{"filter": "datum.s === '(pBA₇₀)₂-CP'"}],
          "mark": {"type": "rule", "strokeWidth": 1.8, "clip": true, "color": "#ea2e2c"},
          "encoding": {
            "x": {"field": "q", "type": "quantitative"},
            "y": {"field": "lo", "type": "quantitative"},
            "y2": {"field": "hi"}
          }
        },
        {
          "data": {"name": "b_pts"},
          "mark": {"type": "circle", "size": 18, "opacity": 1, "clip": true},
          "encoding": {
            "x": {"field": "q", "type": "quantitative"},
            "y": {"field": "I", "type": "quantitative"},
            "color": {"field": "s", "type": "nominal",
              "scale": {"domain": ["(pBA₇₀)₂-CP", "(p(dBA₂₉-b-BA₄₅))₂-CP"], "range": ["#ea2e2c", "#1a1a1a"]},
              "legend": {"title": null, "orient": "none", "legendX": 14.5, "legendY": 260, "strokeColor": "black", "fillColor": "white", "padding": 6, "labelFontSize": 18, "labelFont": "Liberation Sans", "labelColor": "black", "symbolType": "circle", "symbolSize": 100, "symbolOpacity": 1, "rowPadding": 5, "symbolOffset": 5, "labelOffset": 10, "labelLimit": 400}}
          }
        },
        {
          "data": {"values": [{"t": "b"}]},
          "mark": {"type": "text", "fontWeight": "bold", "fontSize": 21, "align": "right", "baseline": "alphabetic", "color": "black"},
          "encoding": {
            "x": {"datum": 0.714, "type": "quantitative"},
            "y": {"datum": 3.37, "type": "quantitative"},
            "text": {"field": "t"}
          }
        }
      ]
    }
  ]
}
